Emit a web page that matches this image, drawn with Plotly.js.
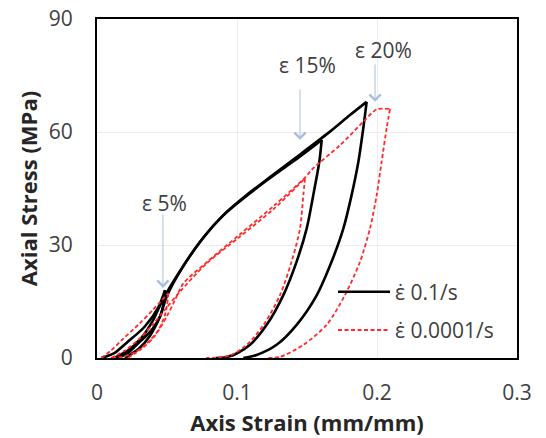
<!DOCTYPE html>
<html>
<head>
<meta charset="utf-8">
<script src="https://cdn.plot.ly/plotly-3.0.1.min.js"></script>
<style>html,body{margin:0;padding:0;background:#fff;}#chart{width:546px;height:438px;}</style>
</head>
<body>
<div id="chart"></div>
<script>
// Strain rate 0.1/s (black, solid) — loops to 5%, 15%, 20% strain
const fast5X  = [0.003,0.012,0.022,0.034,0.044,0.0486, 0.046,0.039,0.0295,0.021,0.013];
const fast5Y  = [0,1.2,4.3,8.3,13.6,18.0, 11.9,7.4,3.9,1.0,0];
const fast15X = [0.012,0.022,0.032,0.040,0.047,0.060,0.075,0.090,0.105,0.120,0.145,0.1605, 0.1588,0.1545,0.1498,0.1426,0.1331,0.1212,0.1093,0.0998,0.092,0.085];
const fast15Y = [0,2.0,5.5,10.0,15.5,23.5,31.5,37.8,42.5,46.8,53.5,57.9, 52.1,43.3,34.4,25.6,16.7,8.8,3.5,1.2,0.2,0];
const fast20X = [0.020,0.030,0.038,0.045,0.050,0.061,0.076,0.091,0.106,0.121,0.146,0.1664,0.1807,0.1926, 0.1902,0.1867,0.1819,0.176,0.1676,0.157,0.1426,0.1283,0.114,0.1045];
const fast20Y = [0,2.5,6.0,11.0,16.5,24,32,38.2,43,47.3,54.3,60.1,64.5,68.0, 61,52.1,43.3,34.4,25.6,16.7,8.8,3.5,0.8,0];

// Strain rate 0.0001/s (red, dashed)
const slow5X  = [0.003,0.010,0.019,0.030,0.040,0.051, 0.049,0.044,0.036,0.027,0.018,0.011];
const slow5Y  = [0,2.0,5.2,9.0,12.8,17.2, 12.0,7.5,4.0,1.5,0.3,0];
const slow15X = [0.010,0.020,0.030,0.040,0.050,0.059,0.078,0.102,0.126,0.1486, 0.1474,0.145,0.139,0.1307,0.119,0.107,0.0957,0.085,0.078];
const slow15Y = [0,2.0,5.0,9.0,13.5,17.5,25.0,32.2,39.5,47.7, 43.3,34.4,25.6,16.7,8.8,3.5,0.8,0.1,0];
const slow20X = [0.022,0.032,0.041,0.0498,0.0557,0.0617,0.078,0.102,0.126,0.1486,0.1545,0.1736,0.1902,0.1998,0.2093, 0.2069,0.2033,0.1998,0.195,0.1879,0.1771,0.164,0.1474,0.1307,0.121];
const slow20Y = [0,2.5,5.7,11.0,15.4,19.8,25.3,32.8,40.3,47.9,50.4,56.5,62.7,66.0,66.1, 61,52.1,43.3,34.4,25.6,16.7,8.8,3.5,0.3,0];

const seriesNames = ['\u03B5\u0307 0.1/s', '\u03B5\u0307 0.0001/s'];
const xTicks = [0, 0.1, 0.2, 0.3];
const yTicks = [0, 30, 60, 90];

// Strain-level callouts: label, strain, stress at arrow tip
const calloutLabels = ['\u03B5 5%', '\u03B5 15%', '\u03B5 20%'];
const calloutTipX = [0.0471, 0.145, 0.1986];
const calloutTipY = [18.6, 57.9, 68.0];
const calloutTextX = [0.0479, 0.150, 0.2043];
const calloutTextY = [41.1, 77.8, 81.8];

const styles = [
  {color: '#000000', width: 2.6, dash: 'solid'},
  {color: '#ff2a2a', width: 1.8, dash: '4px,2.5px'}
];

function branches(x, y) {
  const k = y.indexOf(Math.max(...y));
  return [[x.slice(0, k + 1), y.slice(0, k + 1)], [x.slice(k), y.slice(k)]];
}

const groups = [
  [[fast5X, fast5Y], [fast15X, fast15Y], [fast20X, fast20Y]],
  [[slow5X, slow5Y], [slow15X, slow15Y], [slow20X, slow20Y]]
];

const traces = [];
groups.forEach((loops, s) => {
  let first = true;
  loops.forEach(([lx, ly]) => {
    branches(lx, ly).forEach(([bx, by]) => {
      traces.push({
        x: bx, y: by, type: 'scatter', mode: 'lines',
        name: seriesNames[s], legendgroup: 'g' + s, showlegend: first,
        line: {color: styles[s].color, width: styles[s].width, dash: styles[s].dash, shape: 'spline', smoothing: 0.8},
        hoverinfo: 'skip'
      });
      first = false;
    });
  });
});

const font = 'Open Sans, Liberation Sans, sans-serif';
const annotations = [];
calloutLabels.forEach((t, i) => {
  annotations.push({x: calloutTextX[i], y: calloutTextY[i], xref: 'x', yref: 'y', text: t, showarrow: false,
    font: {family: font, size: 21, color: '#404040'}});
  annotations.push({x: calloutTipX[i], y: calloutTipY[i], xref: 'x', yref: 'y', text: '', showarrow: true,
    ax: 0, ay: i === 0 ? -75 : (i === 1 ? -52 : -39), arrowhead: 4, arrowsize: 2.2, arrowwidth: 1,
    arrowcolor: '#a9bfe0', standoff: 0});
});

const layout = {
  width: 546, height: 438,
  margin: {l: 97, r: 29, t: 19, b: 80, pad: 0},
  paper_bgcolor: '#ffffff', plot_bgcolor: '#ffffff',
  showlegend: true,
  legend: {x: 0.562, y: 0.255, xanchor: 'left', yanchor: 'top', bgcolor: 'rgba(255,255,255,0)',
    font: {family: font, size: 21, color: '#404040'}, traceorder: 'grouped', tracegroupgap: 8, itemwidth: 52},
  xaxis: {range: [0, 0.3], tickvals: xTicks, ticktext: xTicks.map(String), showgrid: true, gridcolor: '#ececec', gridwidth: 1,
    zeroline: false, showline: true, mirror: true, linecolor: '#000', linewidth: 2, ticks: '',
    ticklabelstandoff: 15, tickfont: {family: font, size: 21, color: '#404040'},
    title: {text: '<b>Axis Strain (mm/mm)</b>', font: {family: font, size: 22, color: '#262626'}, standoff: 10}},
  yaxis: {range: [0, 90], tickvals: yTicks, ticktext: yTicks.map(String), showgrid: true, gridcolor: '#ececec', gridwidth: 1,
    zeroline: false, showline: true, mirror: true, linecolor: '#000', linewidth: 2, ticks: '',
    ticklabelstandoff: 18, tickfont: {family: font, size: 21, color: '#404040'},
    title: {text: '<b>Axial Stress (MPa)</b>', font: {family: font, size: 22, color: '#262626'}, standoff: 5}},
  annotations: annotations
};

Plotly.newPlot('chart', traces, layout, {staticPlot: true, displayModeBar: false});
</script>
</body>
</html>
